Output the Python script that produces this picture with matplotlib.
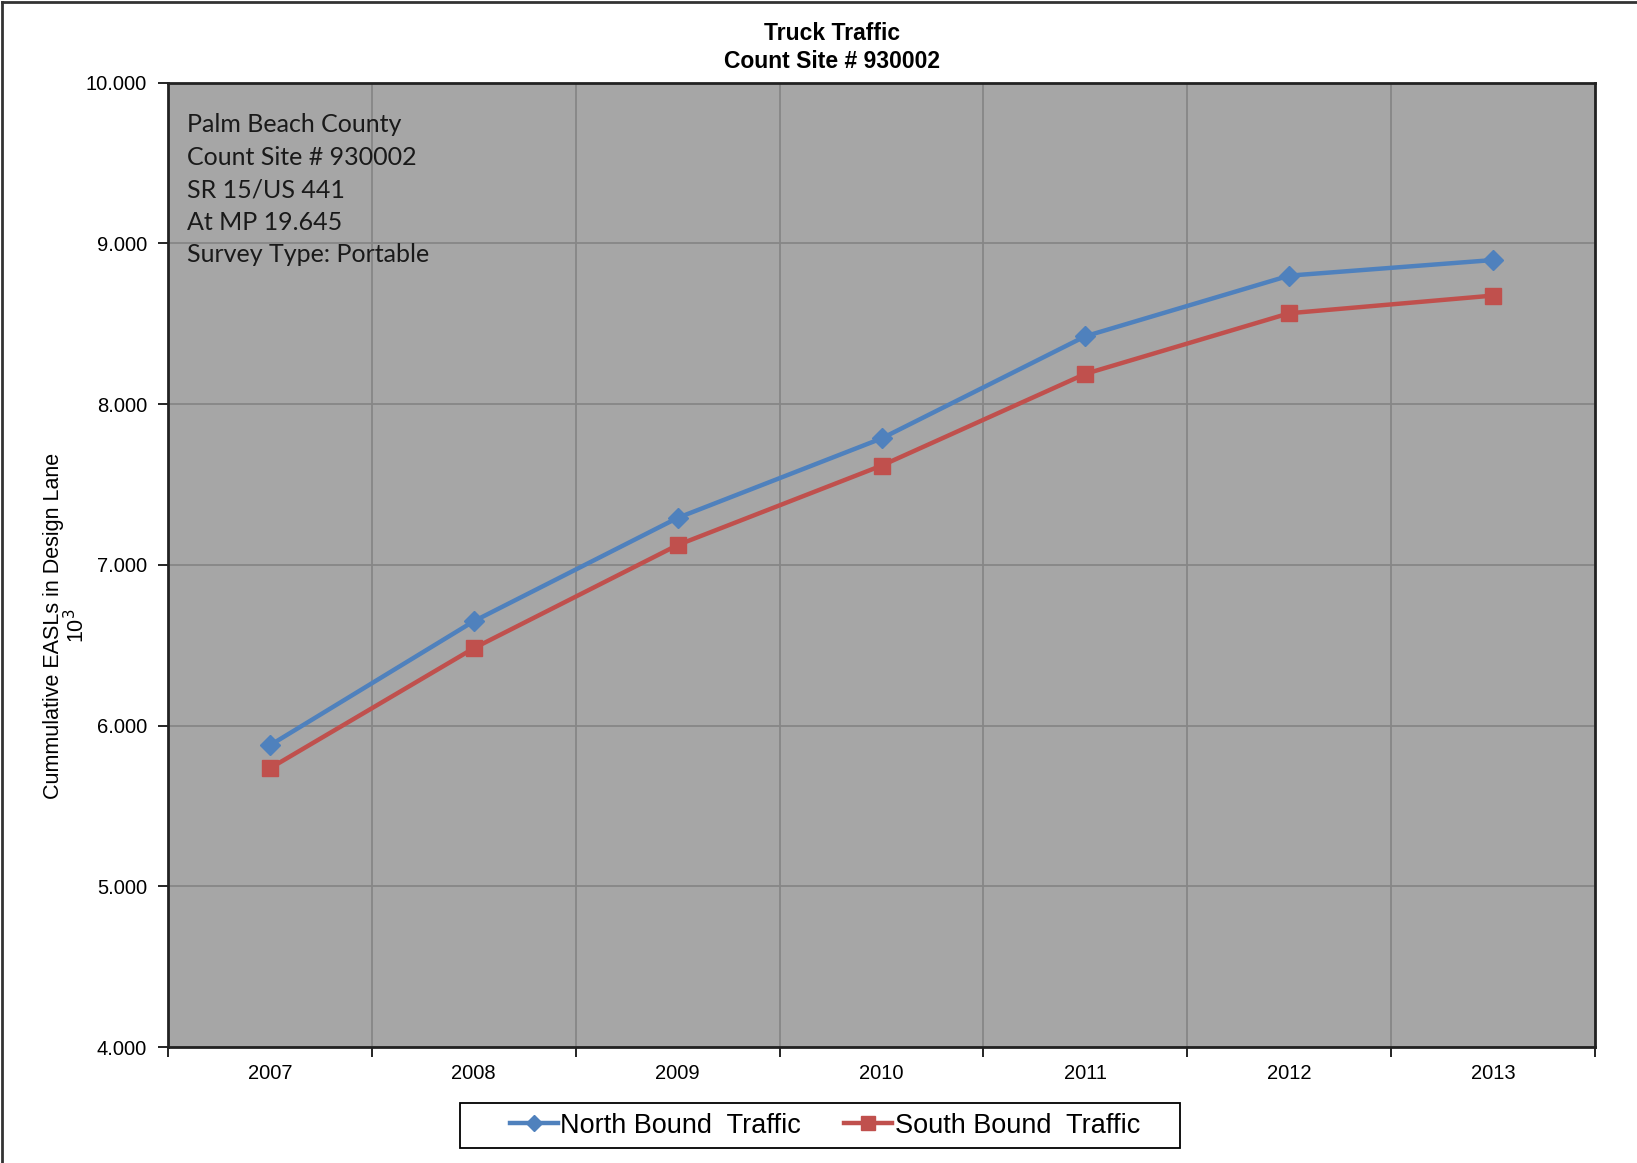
import matplotlib
matplotlib.use("Agg")
import matplotlib.pyplot as plt
from matplotlib.lines import Line2D
from matplotlib.patches import Rectangle
from matplotlib.ticker import FixedLocator, NullFormatter, FixedFormatter

# data (thousands of ESALs)
years = ["2007", "2008", "2009", "2010", "2011", "2012", "2013"]
north = [5.877, 6.649, 7.292, 7.786, 8.422, 8.799, 8.896]
south = [5.734, 6.481, 7.123, 7.617, 8.188, 8.565, 8.675]
yticks = [4, 5, 6, 7, 8, 9, 10]
info = "Palm Beach County\nCount Site # 930002\nSR 15/US 441\nAt MP 19.645\nSurvey Type: Portable"

plt.rcParams['font.family'] = ["Liberation Sans", "DejaVu Sans"]

fig = plt.figure(figsize=(16.37, 11.63), dpi=100)
ax = fig.add_axes([0.1026, 0.0997, 0.8718, 0.8293])
ax.set_facecolor("#a6a6a6")

x = list(range(len(years)))
ax.plot(x, north, color="#4f81bd", lw=3.2, marker="D", ms=10, label="North Bound  Traffic", zorder=3)
ax.plot(x, south, color="#c0504d", lw=3.2, marker="s", ms=12, label="South Bound  Traffic", zorder=3)

ax.set_xlim(-0.5, len(years) - 0.5)
ax.set_ylim(4, 10)

# category axis: ticks/grid on boundaries, labels in centres
bounds = [i - 0.5 for i in range(len(years) + 1)]
ax.xaxis.set_major_locator(FixedLocator(bounds))
ax.xaxis.set_major_formatter(NullFormatter())
ax.xaxis.set_minor_locator(FixedLocator(x))
ax.xaxis.set_minor_formatter(FixedFormatter(years))
ax.tick_params(axis="x", which="major", direction="out", length=7, width=1.2, color="black")
ax.tick_params(axis="x", which="minor", length=0, pad=12, labelsize=14.5)

ax.set_yticks(yticks)
ax.set_yticklabels(["%.3f" % v for v in yticks])
ax.tick_params(axis="y", direction="out", length=7, width=1.2, pad=8, labelsize=14.5)

ax.grid(True, which="major", color="#868686", lw=1.3)
ax.set_axisbelow(True)
for s in ax.spines.values():
    s.set_linewidth(2)
    s.set_color("#222222")

ax.set_ylabel("Cummulative EASLs in Design Lane\n10$^3$", fontsize=15.5, linespacing=1.0)
ax.yaxis.set_label_coords(-0.0555, 0.4365)

ax.text(0.013, 0.968, info, transform=ax.transAxes, va="top", ha="left",
        fontsize=18, family=["Lato", "DejaVu Sans"], linespacing=1.5, color="#1a1a1a")

fig.text(0.508, 0.971, "Truck Traffic", ha="center", va="center", fontsize=16.5,
         fontweight="bold")
fig.text(0.508, 0.947, "Count Site # 930002", ha="center", va="center", fontsize=16.5,
         fontweight="bold")

leg = fig.legend(loc="center", bbox_to_anchor=(0.504, 0.032), ncol=2, frameon=False,
                 fontsize=19.5, handlelength=1.75, handletextpad=0.1, columnspacing=1.6,
                 markerscale=0.8)
fig.add_artist(Rectangle((0.281, 0.0129), 0.44, 0.0383, transform=fig.transFigure,
                         fill=False, edgecolor="black", lw=1.3))

# figure border on top and left
fig.add_artist(Line2D([0.0015, 0.0015], [0, 0.998], color="#333333", lw=2, transform=fig.transFigure))
fig.add_artist(Line2D([0.0015, 1], [0.998, 0.998], color="#333333", lw=2, transform=fig.transFigure))

fig.savefig("out.png", dpi=100)
